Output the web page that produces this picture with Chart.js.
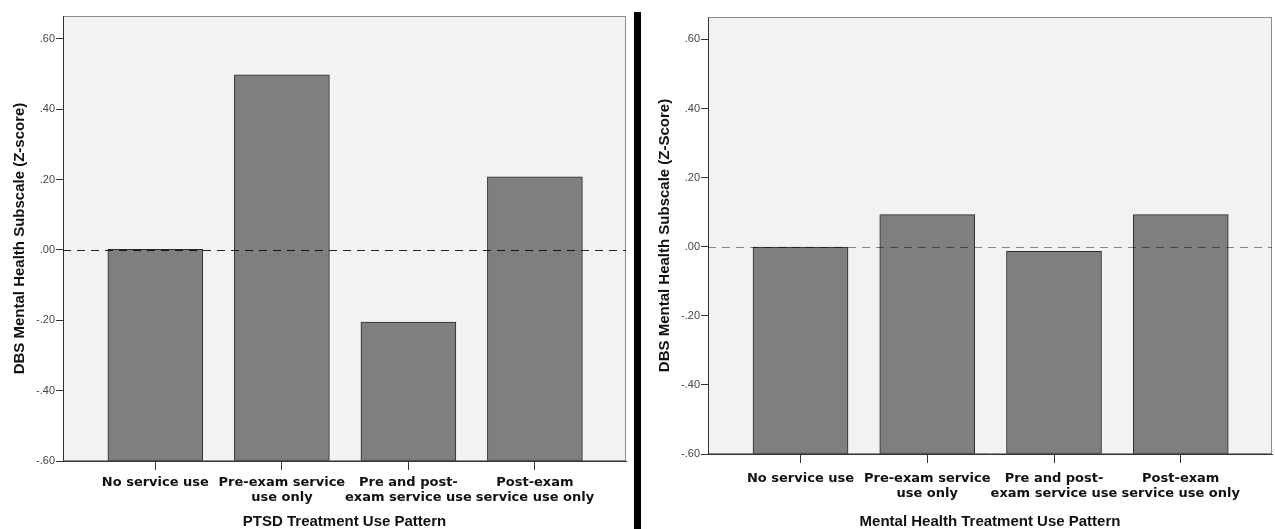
<!DOCTYPE html>
<html>
<head>
<meta charset="utf-8">
<script src="https://cdn.jsdelivr.net/npm/chart.js@4.4.1/dist/chart.umd.min.js"></script>
<style>
  html, body { margin: 0; padding: 0; background: #fff; }
  #wrap { position: relative; width: 1275px; height: 529px; overflow: hidden; }
  .panel { position: absolute; top: 0; }
  #left { left: 0; }
  #right { left: 645px; }
  #divider { position: absolute; left: 634px; top: 12px; width: 7px; height: 517px; background: #000; }
</style>
</head>
<body>
<div id="wrap">
  <div class="panel" id="left"><canvas id="chart-ptsd" width="630" height="529"></canvas></div>
  <div id="divider"></div>
  <div class="panel" id="right"><canvas id="chart-mh" width="630" height="529"></canvas></div>
</div>
<script>
  // Data
  const CATEGORIES = [
    'No service use',
    ['Pre-exam service', 'use only'],
    ['Pre and post-', 'exam service use'],
    ['Post-exam', 'service use only']
  ];
  const PTSD_VALUES = [0.002, 0.498, -0.205, 0.208];
  const MH_VALUES = [-0.001, 0.093, -0.013, 0.093];
  const Y_TICKS = [-0.6, -0.4, -0.2, 0, 0.2, 0.4, 0.6];
  const Y_MIN = -0.6;
  const Y_MAX = 0.665;

  const BAR_FILL = '#7f7f7f';
  const BAR_EDGE = '#2a2a2a';
  const AXIS = '#333333';

  /* ── plot frame + zero line ───────────────────── */
  const framePlugin = {
    id: 'frame',
    beforeDraw(chart) {
      const { ctx, chartArea: a } = chart;
      ctx.save();
      ctx.fillStyle = '#f2f2f2';
      ctx.fillRect(a.left, a.top, a.right - a.left, a.bottom - a.top);
      ctx.strokeStyle = '#8c8c8c';
      ctx.lineWidth = 1;
      ctx.strokeRect(a.left + 0.5, a.top + 0.5, a.right - a.left - 1, a.bottom - a.top - 1);
      ctx.restore();
    },
    afterDatasetsDraw(chart, args, opts) {
      const { ctx, chartArea: a, scales } = chart;
      const y = Math.round(scales.y.getPixelForValue(0)) + 0.5;
      ctx.save();
      ctx.strokeStyle = opts.color;
      ctx.lineWidth = 1;
      ctx.setLineDash([8, 6]);
      ctx.beginPath();
      ctx.moveTo(a.left, y);
      ctx.lineTo(a.right, y);
      ctx.stroke();
      ctx.restore();
    }
  };

  function fmtTick(v) {
    return v.toFixed(2).replace('0.', '.');
  }

  function makeChart(id, values, o) {
    return new Chart(document.getElementById(id), {
      type: 'bar',
      data: {
        datasets: [{
          data: values.map((v, i) => ({ x: i, y: v })),
          base: Y_MIN,
          backgroundColor: BAR_FILL,
          borderColor: BAR_EDGE,
          borderWidth: 1,
          borderSkipped: false,
          barThickness: 95
        }]
      },
      options: {
        responsive: false,
        animation: false,
        devicePixelRatio: 1,
        layout: { padding: { left: 0, top: o.top, right: o.right, bottom: 0 } },
        plugins: {
          legend: { display: false },
          tooltip: { enabled: false },
          frame: { color: o.dashColor }
        },
        scales: {
          x: {
            type: 'linear',
            offset: false,
            min: -0.73,
            max: 3.72,
            afterBuildTicks: (s) => { s.ticks = CATEGORIES.map((c, i) => ({ value: i })); },
            afterFit: (s) => { s.height = o.xHeight; },
            ticks: {
              autoSkip: false,
              maxRotation: 0,
              padding: o.tickPad,
              color: '#111',
              font: { family: 'DejaVu Sans', size: 13, weight: 'bold', lineHeight: 1.16 },
              callback: (v) => CATEGORIES[v]
            },
            grid: { offset: false, drawOnChartArea: false, drawTicks: true, tickLength: 9, color: AXIS },
            border: { color: AXIS, width: 1 },
            title: {
              display: true,
              text: o.xTitle,
              color: '#111',
              padding: { top: 0, bottom: 0 },
              font: { family: 'Liberation Sans', size: 15, weight: 'bold', lineHeight: 1 }
            }
          },
          y: {
            min: Y_MIN,
            max: Y_MAX,
            afterBuildTicks: (s) => { s.ticks = Y_TICKS.map((v) => ({ value: v })); },
            afterFit: (s) => { s.width = 63; },
            ticks: {
              padding: 1,
              color: '#444',
              font: { family: 'Liberation Sans', size: 11 },
              callback: (v) => fmtTick(v)
            },
            grid: { drawOnChartArea: false, drawTicks: true, tickLength: 7, color: AXIS },
            border: { color: AXIS, width: 1 },
            title: {
              display: true,
              text: o.yTitle,
              color: '#111',
              padding: { top: 11, bottom: 0 },
              font: { family: 'Liberation Sans', size: 15, weight: 'bold', lineHeight: 1.2 }
            }
          }
        }
      },
      plugins: [framePlugin]
    });
  }

  makeChart('chart-ptsd', PTSD_VALUES, {
    top: 16, right: 4, xHeight: 68, tickPad: 5,
    xTitle: 'PTSD Treatment Use Pattern',
    yTitle: 'DBS Mental Health Subscale (Z-score)',
    dashColor: 'rgba(0,0,0,0.85)'
  });

  makeChart('chart-mh', MH_VALUES, {
    top: 17, right: 3, xHeight: 75, tickPad: 8,
    xTitle: 'Mental Health Treatment Use Pattern',
    yTitle: 'DBS Mental Health Subscale (Z-Score)',
    dashColor: 'rgba(0,0,0,0.45)'
  });
</script>
</body>
</html>
